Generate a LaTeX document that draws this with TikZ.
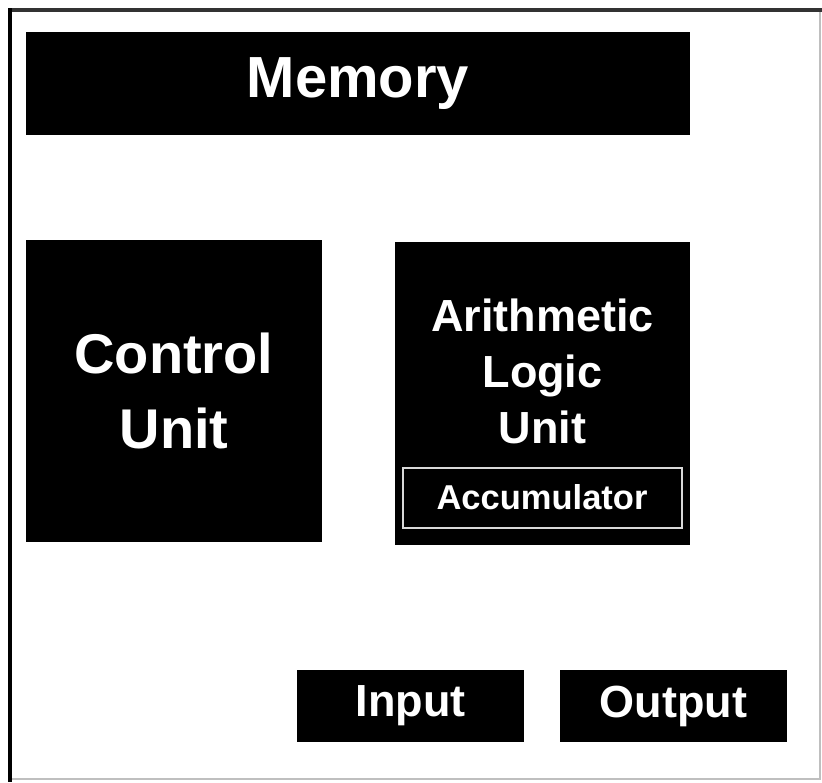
\documentclass[tikz,border=0pt]{standalone}
\usepackage{fontspec}
\setmainfont{Liberation Sans}
\tikzset{
  unitbox/.style={fill=black, text=white, inner sep=0pt, align=center,
    font=\bfseries},
}
\begin{document}
\begin{tikzpicture}[x=1pt,y=-1pt]
  \useasboundingbox (0,0) rectangle (822,782);
  % frame
  \draw[black!25, line width=1.5pt] (820,10) -- (820,779) -- (10,779);
  \draw[black!80, line width=4pt] (8,10) -- (822,10);
  \draw[black, line width=4pt] (10,8) -- (10,782);
  % units
  \node[unitbox, minimum width=664pt, minimum height=103pt,
    font=\bfseries\fontsize{58}{64}\selectfont] (memory) at (358,83.5) {Memory};
  \node[unitbox, minimum width=296pt, minimum height=302pt,
    font=\bfseries\fontsize{56}{75}\selectfont] (control) at (174,391) {Control\\Unit};
  \node[unitbox, minimum width=295pt, minimum height=303pt] (alu) at (542.5,393.5) {};
  \node[text=white, align=center, font=\bfseries\fontsize{45}{56}\selectfont,
    anchor=base] (alutext) at (542.5,443) {Arithmetic\\Logic\\Unit};
  \node[draw=black!15, line width=2pt, text=white, inner sep=0pt,
    minimum width=279pt, minimum height=60pt,
    font=\bfseries\fontsize{34.5}{40}\selectfont] (acc) at (542,497.5) {Accumulator};
  \node[unitbox, minimum width=227pt, minimum height=72pt,
    font=\bfseries\fontsize{45}{50}\selectfont] (input) at (410.5,706) {Input};
  \node[unitbox, minimum width=227pt, minimum height=72pt,
    font=\bfseries\fontsize{45}{50}\selectfont] (output) at (673.5,706) {Output};
\end{tikzpicture}
\end{document}
